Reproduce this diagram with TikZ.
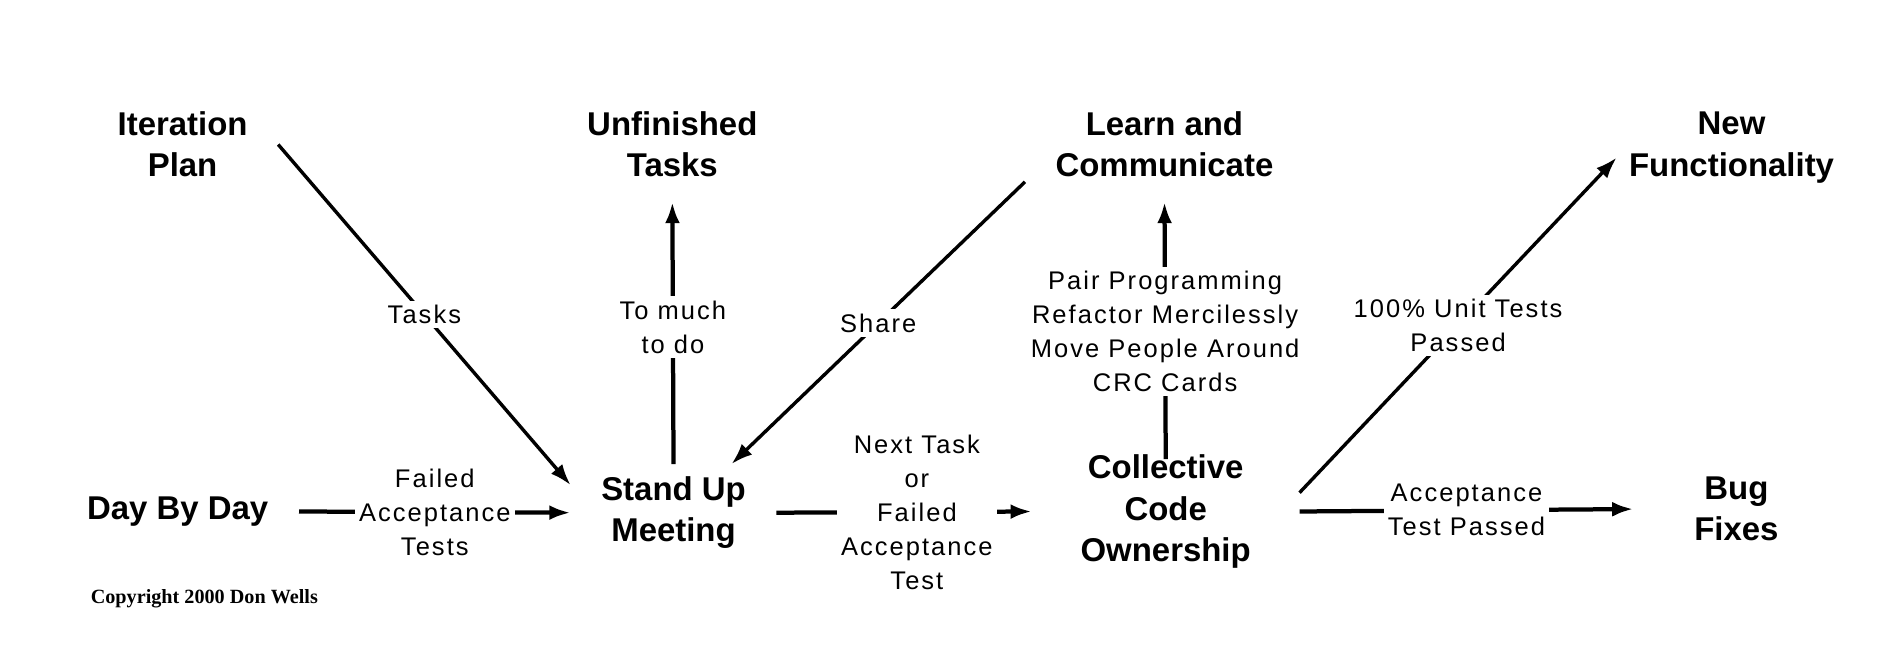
\documentclass[tikz,border=0pt]{standalone}
\usepackage{fontspec}
\setmainfont{Liberation Sans}
\newfontfamily\labfont[LetterSpace=8]{Liberation Sans}
\newfontfamily\copyfont{Liberation Serif}
\usetikzlibrary{arrows.meta}

\begin{document}
\begin{tikzpicture}[x=0.02cm, y=-0.02cm,
	task/.style={font=\fontsize{15.5}{19.5}\selectfont\bfseries, align=center, inner xsep=0.5cm, inner ysep=0.2cm},
	lab/.style={font=\labfont\fontsize{12}{16}\selectfont, align=center, fill=white, inner sep=2pt},
	flow/.style={line width=2pt, -{Latex[length=10pt, width=7pt]}},
	slant/.style={flow, line width=1.6pt}]
	\useasboundingbox (0, 0) rectangle (1568, 549);
	% Draw tasks
	\node[task] (ip) at (151, 119.5) {Iteration\\Plan};
	\node[task] (uf) at (556, 119.5) {Unfinished\\Tasks};
	\node[task] (lc) at (963, 119.5) {Learn and\\Communicate};
	\node[task, inner xsep=0.2cm] (nf) at (1432, 122) {New\\Functionality};
	\node[task] (dbd) at (147, 423) {Day By Day};
	\node[task] (sum) at (557, 424) {Stand Up\\Meeting};
	\node[task, inner xsep=0.8cm] (cco) at (964, 423) {Collective\\Code\\Ownership};
	\node[task, inner xsep=1cm] (bug) at (1436, 421) {Bug\\Fixes};
	\node[font=\copyfont\fontsize{9.5}{11}\selectfont\bfseries] (copy) at (169, 495) {Copyright 2000 Don Wells};
	% Draw flows
	\draw[slant] (ip.east) -- node[lab] {Tasks} (sum.165);
	\draw[flow] (dbd.east) -- node[lab] {Failed\\Acceptance\\Tests} (sum.west);
	\draw[flow, shorten >=0.2cm] (sum.north) -- node[lab] {To much\\to do} (uf.south);
	\draw[slant] (lc.195) -- node[lab] {Share} (sum.40);
	\draw[flow] (sum.east) -- node[lab, pos=0.55] {Next Task\\or\\Failed\\Acceptance\\Test} (cco.west);
	\draw[flow, shorten <=-0.28cm, shorten >=0.2cm] (cco.north) -- node[lab, pos=0.44]
		{Pair Programming\\Refactor Mercilessly\\Move People Around\\CRC Cards} (lc.south);
	\draw[slant] (cco.8) -- node[lab] {100\% Unit Tests\\Passed} (nf.185);
	\draw[flow] (cco.east) -- node[lab] {Acceptance\\Test Passed} (bug.west);
\end{tikzpicture}
\end{document}
